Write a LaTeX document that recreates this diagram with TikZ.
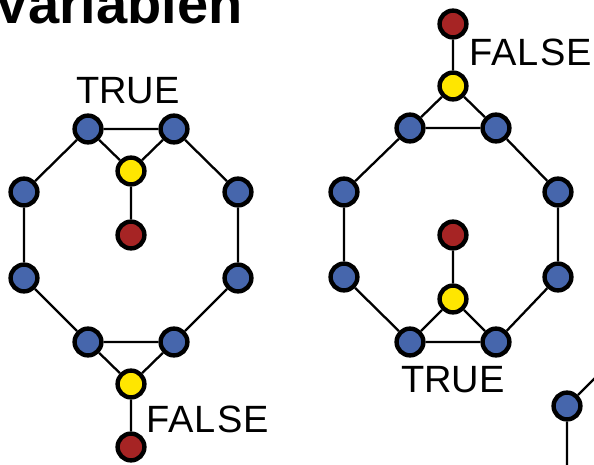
\documentclass[tikz,border=0pt]{standalone}
\usepackage{fontspec}
\setmainfont{Liberation Sans}
\definecolor{litblue}{RGB}{70,102,172}
\definecolor{clauseyellow}{RGB}{255,230,0}
\definecolor{varred}{RGB}{166,36,36}
\begin{document}
\begin{tikzpicture}[x=1pt,y=-1pt,
  vertex/.style={circle, draw=black, line width=4.4pt, minimum size=26.8pt, inner sep=0pt},
  lit/.style={vertex, fill=litblue},
  hub/.style={vertex, fill=clauseyellow},
  term/.style={vertex, fill=varred},
  edge/.style={line width=2.3pt},
  lbl/.style={inner sep=0pt, font=\fontsize{38}{40}\selectfont},
  widelbl/.style={lbl, font=\fontsize{38}{40}\selectfont\addfontfeature{LetterSpace=3}}]
\useasboundingbox (0,0) rectangle (594,465);

% heading, partly outside the page
\node[inner sep=0pt, anchor=base east, font=\fontsize{56}{60}\selectfont\bfseries] (title) at (243,24) {Variablen};

% ---- left gadget: TRUE on top, FALSE below
\node[lit] (la) at (88,129) {};
\node[lit] (lb) at (174,129) {};
\node[hub] (lty) at (131,171) {};
\node[term] (ltr) at (131,235) {};
\node[lit] (lc) at (24,192) {};
\node[lit] (ld) at (24,278) {};
\node[lit] (le) at (238,192) {};
\node[lit] (lf) at (238,278) {};
\node[lit] (lg) at (88,342) {};
\node[lit] (lh) at (174,342) {};
\node[hub] (lby) at (131,384) {};
\node[term] (lbr) at (131,447) {};

\draw[edge] (la) -- (lb) (la) -- (lty) (lb) -- (lty) (lty) -- (ltr)
  (la) -- (lc) (lc) -- (ld) (ld) -- (lg) (lg) -- (lh)
  (lg) -- (lby) (lh) -- (lby) (lby) -- (lbr)
  (lh) -- (lf) (lf) -- (le) (le) -- (lb);

\node[lbl, anchor=base] (ltrue) at (128,104) {TRUE};
\node[widelbl, anchor=base west] (lfalse) at (146,432) {FALSE};

% ---- right gadget: FALSE on top, TRUE below
\node[term] (rtr) at (453,24) {};
\node[hub] (rty) at (453,86) {};
\node[lit] (ra) at (410,128) {};
\node[lit] (rb) at (496,128) {};
\node[lit] (rc) at (344,192) {};
\node[lit] (rd) at (344,277) {};
\node[lit] (re) at (558,192) {};
\node[lit] (rf) at (558,277) {};
\node[lit] (rg) at (410,342) {};
\node[lit] (rh) at (496,342) {};
\node[hub] (rby) at (453,299) {};
\node[term] (rbr) at (453,235) {};

\draw[edge] (rtr) -- (rty) (rty) -- (ra) (rty) -- (rb) (ra) -- (rb)
  (ra) -- (rc) (rc) -- (rd) (rd) -- (rg) (rg) -- (rh)
  (rg) -- (rby) (rh) -- (rby) (rby) -- (rbr)
  (rh) -- (rf) (rf) -- (re) (re) -- (rb);

\node[widelbl, anchor=base west] (rfalse) at (469,66) {FALSE};
\node[lbl, anchor=base] (rtrue) at (453,392) {TRUE};

% ---- next gadget, only its upper left corner on the page
\node[lit] (nc) at (567,406) {};
\coordinate (nup) at (631,342);
\coordinate (ndown) at (567,492);
\draw[edge] (nc) -- (nup) (nc) -- (ndown);
\end{tikzpicture}
\end{document}
